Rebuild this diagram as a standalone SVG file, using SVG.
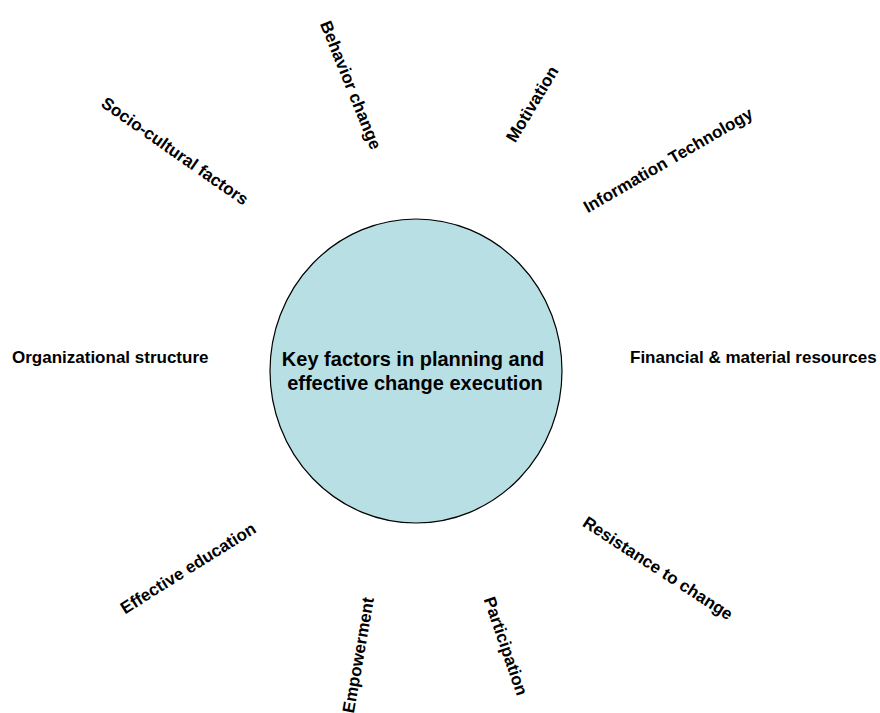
<svg xmlns="http://www.w3.org/2000/svg" width="880" height="713" viewBox="0 0 880 713">
<style>
.lbl{font-family:"Liberation Sans",Arial,sans-serif;font-weight:bold;font-size:17px;fill:#000;}
.ctr{font-family:"Liberation Sans",Arial,sans-serif;font-weight:bold;font-size:20px;fill:#000;text-anchor:middle;}
</style>
<rect width="880" height="713" fill="#fff"/>
<g id="connectors"></g>
<g id="center">
<ellipse cx="416" cy="371" rx="146" ry="152" fill="#b8e0e4" stroke="#000" stroke-width="1.2"/>
<text class="ctr" x="413" y="366">Key factors in planning and</text>
<text class="ctr" x="415" y="390">effective change execution</text>
</g>
<g id="n-socio"><text class="lbl" text-anchor="middle" transform="translate(175,151) rotate(35)" y="6">Socio-cultural factors</text></g>
<g id="n-behavior"><text class="lbl" text-anchor="middle" transform="translate(351,85) rotate(68)" y="6">Behavior change</text></g>
<g id="n-motivation"><text class="lbl" text-anchor="middle" transform="translate(532,104) rotate(-59)" y="6">Motivation</text></g>
<g id="n-it"><text class="lbl" text-anchor="middle" transform="translate(668,160) rotate(-30)" y="6">Information Technology</text></g>
<g id="n-org"><text class="lbl" x="12" y="363">Organizational structure</text></g>
<g id="n-fin"><text class="lbl" x="630" y="363">Financial &amp; material resources</text></g>
<g id="n-edu"><text class="lbl" text-anchor="middle" transform="translate(188,568) rotate(-32)" y="6">Effective education</text></g>
<g id="n-emp"><text class="lbl" text-anchor="middle" transform="translate(358,655) rotate(-80)" y="6">Empowerment</text></g>
<g id="n-part"><text class="lbl" text-anchor="middle" transform="translate(506,646) rotate(71)" y="6">Participation</text></g>
<g id="n-res"><text class="lbl" text-anchor="middle" transform="translate(658,568) rotate(33)" y="6">Resistance to change</text></g>
</svg>
